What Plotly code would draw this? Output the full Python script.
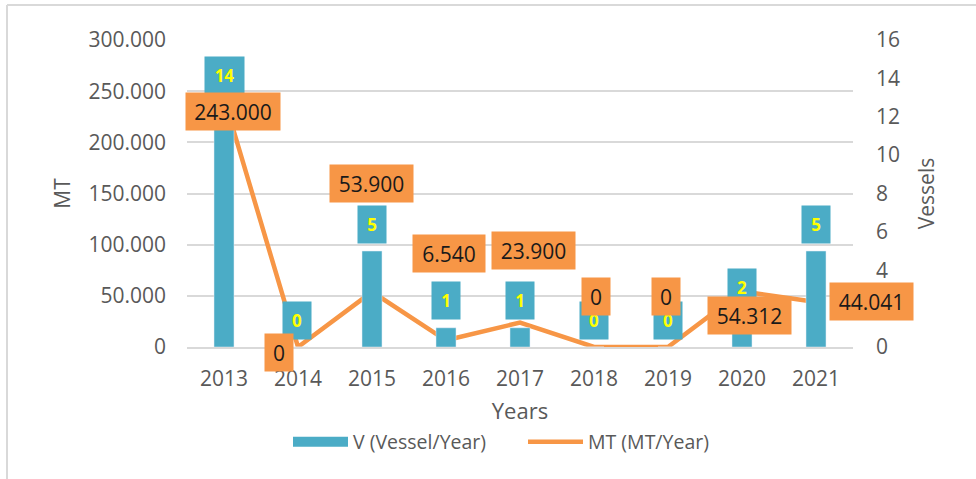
import plotly.graph_objects as go

years = ["2013", "2014", "2015", "2016", "2017", "2018", "2019", "2020", "2021"]
vessels = [14, 0, 5, 1, 1, 0, 0, 2, 5]
mt = [243000, 0, 53900, 6540, 23900, 0, 0, 54312, 44041]

mt_ticks = [0, 50000, 100000, 150000, 200000, 250000, 300000]
vessel_ticks = [0, 2, 4, 6, 8, 10, 12, 14, 16]

BLUE = "#4BACC6"
ORANGE = "#F79646"
GRAY_TXT = "#595959"
GRID = "#D9D9D9"
FONT = "Open Sans"

W, H = 976, 479
ML, MR, MT_, MB = 187, 123, 40, 132
PW, PH = W - ML - MR, H - MT_ - MB

# label offsets (pixels) relative to the data point: (xshift, yshift)
bar_label_shift = [(0, 3), (-1, 27), (0, 27), (0, 27), (0, 27), (0, 27), (0, 27), (0, 21), (0, 27)]
line_label_shift = [(9, -13), (-19, -5), (-1, 108), (3, 87), (13, 72), (2, 51), (-2, 51), (7, -24), (55, 0)]


def fmt(v):
    return "0" if v == 0 else f"{v:,}".replace(",", ".")


fig = go.Figure()
fig.add_trace(go.Bar(
    x=years, y=vessels, name="V (Vessel/Year)", marker_color=BLUE,
    yaxis="y2", width=0.27, showlegend=False,
))
# legend-only entry so the bar swatch is a wide band like the reference
fig.add_trace(go.Scatter(
    x=[None], y=[None], name="V (Vessel/Year)", mode="lines",
    line=dict(color=BLUE, width=11), yaxis="y2", showlegend=True,
))
fig.add_trace(go.Scatter(
    x=years, y=mt, name="MT (MT/Year)", mode="lines",
    line=dict(color=ORANGE, width=4.5), yaxis="y",
))

annotations = []
for i, (v, (dx, dy)) in enumerate(zip(vessels, bar_label_shift)):
    t = str(v)
    annotations.append(dict(
        x=i, y=v, xref="x", yref="y2", text=f"<b>{t}</b>", showarrow=False,
        xshift=dx, yshift=dy, bgcolor=BLUE, borderpad=0,
        width=17 + 11 * len(t), height=37,
        font=dict(family=FONT, size=17, color="#FFFF00"),
    ))
for i, (v, (dx, dy)) in enumerate(zip(mt, line_label_shift)):
    t = fmt(v)
    annotations.append(dict(
        x=i, y=v, xref="x", yref="y", text=t, showarrow=False,
        xshift=dx, yshift=dy, bgcolor=ORANGE, borderpad=0,
        width=17 + 11 * len(t), height=37,
        font=dict(family=FONT, size=21, color="#1a1a1a"),
    ))

# chart-area border (top and left visible in the reference)
bx0 = (7 - ML) / PW
by0 = (H - 5 - MB) / PH
shapes = [
    dict(type="line", xref="paper", yref="paper", x0=bx0, x1=(W + 5 - ML) / PW, y0=by0, y1=by0,
         line=dict(color=GRID, width=2), layer="below"),
    dict(type="line", xref="paper", yref="paper", x0=bx0, x1=bx0, y0=by0, y1=(-5 - MB) / PH,
         line=dict(color=GRID, width=2), layer="below"),
]

fig.update_layout(
    width=W, height=H,
    margin=dict(l=ML, r=MR, t=MT_, b=MB),
    paper_bgcolor="white", plot_bgcolor="white",
    separators=",.",
    font=dict(family=FONT, color=GRAY_TXT, size=20),
    showlegend=True,
    legend=dict(orientation="h", x=(288 - ML) / PW, xanchor="left", y=(347 - 442) / PH,
                yanchor="middle", font=dict(size=19.5, color=GRAY_TXT), traceorder="normal",
                itemwidth=55, entrywidth=165, entrywidthmode="pixels"),
    xaxis=dict(type="category", range=[-0.5, len(years) - 0.5], autorange=False,
               showgrid=False, showline=True, linecolor=GRID, linewidth=2,
               tickfont=dict(size=21, color=GRAY_TXT), ticks="", ticklabelstandoff=12,
               title=dict(text="Years", font=dict(size=22, color=GRAY_TXT), standoff=12)),
    yaxis=dict(range=[0, 300000], autorange=False, tickvals=mt_ticks, tickformat=",d", showgrid=True,
               gridcolor=GRID, gridwidth=2, zeroline=False, showline=False,
               tickfont=dict(size=21, color=GRAY_TXT), ticklabelstandoff=20,
               title=dict(text="MT", font=dict(size=21, color=GRAY_TXT), standoff=12)),
    yaxis2=dict(range=[0, 16], autorange=False, tickvals=vessel_ticks, overlaying="y", side="right",
                showgrid=False, zeroline=False, showline=False,
                tickfont=dict(size=21, color=GRAY_TXT), ticklabelstandoff=22,
                title=dict(text="Vessels", font=dict(size=21, color=GRAY_TXT), standoff=20)),
    bargap=0.73,
    annotations=annotations,
    shapes=shapes,
)

fig.write_html("out.html", config={"displayModeBar": False},
               post_script="document.body.style.margin='0';document.body.style.overflow='hidden';")
